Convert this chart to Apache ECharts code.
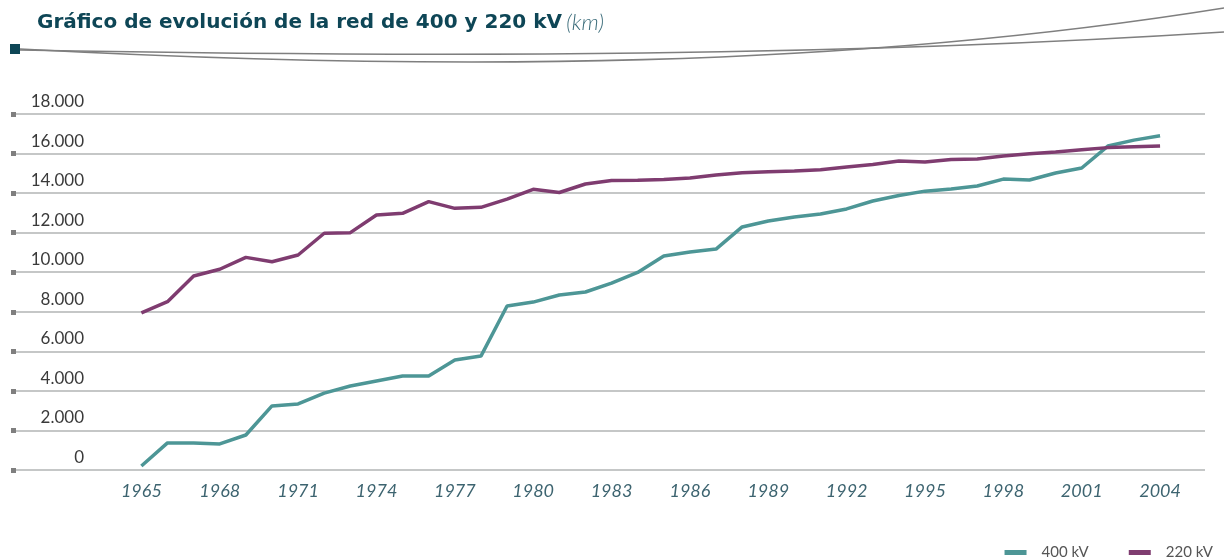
<!DOCTYPE html>
<html>
<head>
<meta charset="utf-8">
<script src="https://cdn.jsdelivr.net/npm/echarts@6/dist/echarts.min.js"></script>
<style>
  html, body { margin: 0; padding: 0; background: #fff; }
  #chart { width: 1224px; height: 559px; }
</style>
</head>
<body>
<div id="chart"></div>
<script>
// Years of the series (one point per year)
const years = [1965, 1966, 1967, 1968, 1969, 1970, 1971, 1972, 1973, 1974,
               1975, 1976, 1977, 1978, 1979, 1980, 1981, 1982, 1983, 1984,
               1985, 1986, 1987, 1988, 1989, 1990, 1991, 1992, 1993, 1994,
               1995, 1996, 1997, 1998, 1999, 2000, 2001, 2002, 2003, 2004];

// Years shown as labels on the x axis
const yearLabels = [1965, 1968, 1971, 1974, 1977, 1980, 1983, 1986, 1989, 1992, 1995, 1998, 2001, 2004];

// km of 400 kV lines
const kv400 = [200, 1370, 1370, 1320, 1770, 3240, 3340, 3890, 4250, 4500,
               4750, 4750, 5560, 5760, 8290, 8490, 8850, 9000, 9450, 9990,
               10820, 11020, 11170, 12290, 12590, 12790, 12940, 13200, 13600, 13880,
               14100, 14210, 14360, 14710, 14660, 15020, 15270, 16380, 16680, 16900];

// km of 220 kV lines
const kv220 = [7950, 8510, 9810, 10150, 10750, 10530, 10870, 11970, 12000, 12890,
               12980, 13570, 13230, 13280, 13700, 14190, 14030, 14460, 14640, 14650,
               14690, 14760, 14920, 15030, 15080, 15120, 15180, 15320, 15450, 15620,
               15570, 15700, 15720, 15880, 15990, 16080, 16190, 16300, 16340, 16380];

const chart = echarts.init(document.getElementById('chart'));

const fmtThousands = (v) => String(v).replace(/\B(?=(\d{3})+(?!\d))/g, '.');

const option = {
    animation: false,
    textStyle: { fontFamily: 'Lato, "Open Sans", sans-serif' },
    title: {
        left: 32,
        top: 7,
        text: '{b|Gráfico de evolución de la red de 400 y 220 kV} {i|(km)}',
        textStyle: {
            rich: {
                b: { fontSize: 20, fontWeight: 'bold', color: '#0e4656', fontFamily: '"DejaVu Sans"' },
                i: { fontSize: 22, fontStyle: 'italic', fontWeight: 300, color: '#3b6c7a', fontFamily: 'Lato' }
            }
        }
    },
    legend: {
        right: 6,
        top: 540,
        icon: 'rect',
        itemWidth: 22,
        itemHeight: 5,
        itemGap: 40,
        textStyle: { color: '#555', fontSize: 15, padding: [0, 0, 0, 10] },
        data: ['400 kV', '220 kV']
    },
    grid: { left: 16, right: 19, top: 114, bottom: 89 },
    xAxis: {
        type: 'value',
        min: 1960.2,
        max: 2005.72,
        axisLine: { show: false },
        axisTick: { show: false },
        splitLine: { show: false },
        axisLabel: {
            customValues: yearLabels,
            margin: 12,
            fontSize: 18,
            fontStyle: 'italic',
            color: '#3d6470',
            formatter: (v) => String(v)
        }
    },
    yAxis: {
        type: 'value',
        min: 0,
        max: 18000,
        interval: 2000,
        axisLine: { show: false },
        axisTick: { show: true, length: 5, lineStyle: { width: 5, color: '#7f7f7f' } },
        splitLine: { lineStyle: { color: '#b2b4b4', width: 1.5 } },
        axisLabel: {
            margin: -68,
            align: 'right',
            verticalAlign: 'bottom',
            padding: [0, 0, 4, 0],
            fontSize: 17,
            color: '#3a3a3a',
            formatter: fmtThousands
        }
    },
    series: [
        {
            name: '400 kV',
            type: 'line',
            symbol: 'none',
            itemStyle: { color: '#4d9696' },
            lineStyle: { width: 3.5, color: '#4d9696' },
            data: years.map((y, i) => [y, kv400[i]])
        },
        {
            name: '220 kV',
            type: 'line',
            symbol: 'none',
            itemStyle: { color: '#7f3c70' },
            lineStyle: { width: 3.5, color: '#7f3c70' },
            data: years.map((y, i) => [y, kv220[i]])
        }
    ],
    graphic: [
        // decorative header rule
        { type: 'rect', shape: { x: 10, y: 44, width: 10, height: 10 }, style: { fill: '#0e4656' } },
        {
            type: 'bezierCurve',
            shape: { x1: 20, y1: 49, cpx1: 450, cpy1: 72, cpx2: 850, cpy2: 68, x2: 1224, y2: 8 },
            style: { stroke: '#7f7f7f', lineWidth: 1.6, fill: null }
        },
        {
            type: 'bezierCurve',
            shape: { x1: 20, y1: 50, cpx1: 450, cpy1: 58, cpx2: 850, cpy2: 56, x2: 1224, y2: 32 },
            style: { stroke: '#7f7f7f', lineWidth: 1.6, fill: null }
        }
    ]
};

chart.setOption(option);
</script>
</body>
</html>
